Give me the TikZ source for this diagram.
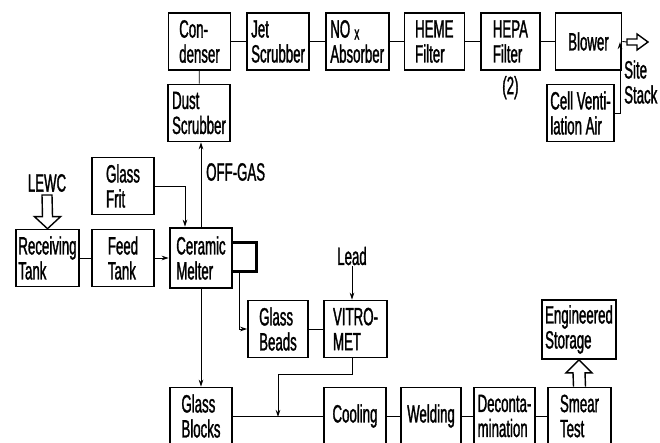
\documentclass[tikz,border=0pt]{standalone}
\usepackage{fontspec}
\setmainfont[FakeStretch=0.53, FakeBold=1.2]{Liberation Sans}
\usetikzlibrary{positioning,arrows.meta,calc}

\begin{document}
\begin{tikzpicture}[
  x=1pt, y=-1pt,
  node distance=15pt and 15pt,
  box/.style={draw, line width=1.6pt, inner sep=1pt, align=left, font=\fontsize{25}{25}\selectfont, minimum width=62pt, minimum height=57pt},
  melter/.style={box, line width=2.6pt},
  lbl/.style={inner sep=1pt, align=left, font=\fontsize{25}{25}\selectfont},
  flow/.style={line width=0.9pt},
  arr/.style={flow, -{Stealth[length=7pt, width=4.5pt]}},
  hollow/.style={line width=1.4pt, fill=white},
]
  \fill[white] (0,0) rectangle (660,443);
  \useasboundingbox (0,0) rectangle (660,443);

  % Off-gas line (top row)
  \node[box] (cond) at (199.5,41.5) {Con-\\denser};
  \node[box, right=15pt of cond] (jet) {Jet\\Scrubber};
  \node[box, right=15pt of jet, minimum width=63pt] (nox) {NO\,\raisebox{-2pt}{\fontsize{19}{19}\selectfont x}\\Absorber};
  \node[box, right=14pt of nox, minimum width=60pt] (heme) {HEME\\Filter};
  \node[box, right=15pt of heme, minimum width=59pt] (hepa) {HEPA\\Filter};
  \node[box, right=14pt of hepa, minimum width=66pt] (blow) {Blower};
  \node[lbl, below=4pt of hepa] (two) {(2)};
  \node[box, minimum width=67pt] (vent) at (580.5,113) {Cell Venti-\\lation Air};
  \node[box] (dust) at (199,113) {Dust\\Scrubber};

  % Feed and melter
  \node[box] (frit) at (123,186) {Glass\\Frit};
  \node[box, minimum width=63pt] (recv) at (47.5,258) {Receiving\\Tank};
  \node[box] (feedt) at (123,258) {Feed\\Tank};
  \node[melter, minimum height=60pt] (melt) at (201,258) {Ceramic\\Melter};
  \node[box, minimum width=60pt] (beads) at (278,329) {Glass\\Beads};
  \node[box, minimum width=63pt] (vitro) at (355.5,329) {VITRO-\\MET};
  \node[box, minimum width=74pt, minimum height=59pt] (store) at (579,329.5) {Engineered\\Storage};

  % Product line (bottom row)
  \node[box] (blocks) at (201,416) {Glass\\Blocks};
  \node[box] (cool) at (355,416) {Cooling};
  \node[box, minimum width=60pt] (weld) at (431,416) {Welding};
  \node[box, minimum width=61pt] (decon) at (504.5,416) {Deconta-\\mination};
  \node[box, minimum width=63pt] (smear) at (579.5,416) {Smear\\Test};

  % Free labels
  \node[lbl] (lewc) at (47,183) {LEWC};
  \node[lbl, anchor=west] (offgas) at (205,172) {OFF-GAS};
  \node[lbl] (lead) at (352,256) {Lead};
  \node[lbl, anchor=west] (stack) at (623,82) {Site\\Stack};

  \coordinate (stk) at (627,42);
  \coordinate (vj) at (620,42);
  \coordinate (lp) at (239,273);
  \coordinate (mrg) at (278,417);

  % Connectors
  \draw[flow] (cond) -- (jet);
  \draw[flow] (jet) -- (nox);
  \draw[flow] (nox) -- (heme);
  \draw[flow] (heme) -- (hepa);
  \draw[flow] (hepa) -- (blow);
  \draw[flow] (blow.east) -- (stk);
  \draw[flow] (cond) -- (dust);
  \draw[arr] (vent.east) -| (vj);
  \draw[arr] (melt.north) -- (melt.north |- dust.south);
  \draw[arr] (frit.east) -| ($(melt.north)+(-16,0)$);
  \draw[flow] (recv) -- (feedt);
  \draw[arr] (feedt) -- (melt);
  \draw[line width=2.6pt] ($(melt.north east)+(0,16)$) -- ++(23,0) -- ++(0,29) -- ++(-23,0);
  \draw[arr] (lp) |- (beads.west);
  \draw[arr] (melt) -- (blocks);
  \draw[flow] (beads) -- (vitro);
  \draw[arr] (lead.south) -- (lead.south |- vitro.north);
  \draw[arr] (vitro.south -| lead.south) -- ++(0,16) -| (mrg);
  \draw[flow] (blocks) -- (cool);
  \draw[flow] (cool) -- (weld);
  \draw[flow] (weld) -- (decon);
  \draw[flow] (decon) -- (smear);

  % Hollow arrows
  \draw[hollow] (stk) ++(0,-3) -- ++(10,0) -- ++(0,-5) -- ++(11,8) -- ++(-11,8) -- ++(0,-5) -- ++(-10,0) -- cycle;
  \draw[hollow] ($(lewc.south)+(-5,2)$) -- ($(recv.north)+(-5,-12)$) -- ($(recv.north)+(-13,-12)$) -- (recv.north)
    -- ($(recv.north)+(13,-12)$) -- ($(recv.north)+(5,-12)$) -- ($(lewc.south)+(5,2)$) -- cycle;
  \draw[hollow] ($(smear.north)+(-6,0)$) -- ($(store.south)+(-6,13)$) -- ($(store.south)+(-13,13)$) -- (store.south)
    -- ($(store.south)+(13,13)$) -- ($(store.south)+(6,13)$) -- ($(smear.north)+(6,0)$);
\end{tikzpicture}
\end{document}
